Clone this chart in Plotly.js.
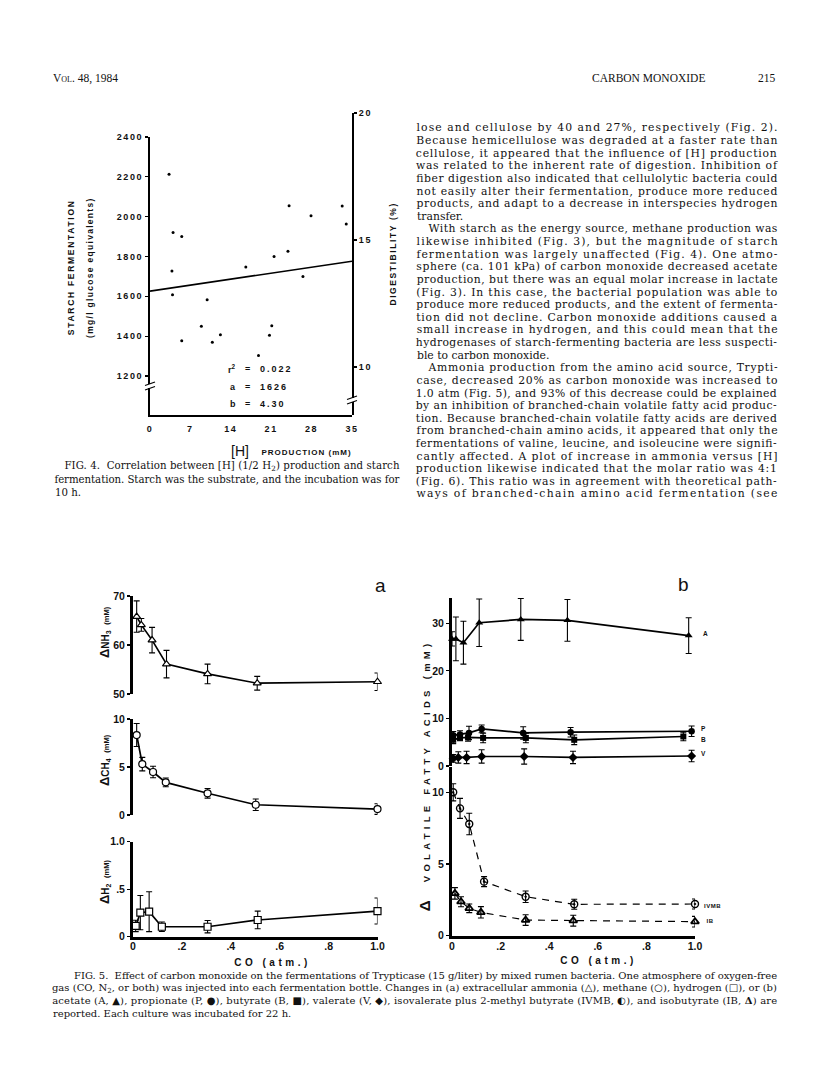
<!DOCTYPE html>
<html><head><meta charset="utf-8">
<script src="https://cdn.plot.ly/plotly-3.0.1.min.js"></script>
<style>
html,body{margin:0;padding:0;background:#fff;}
#chart{width:816px;height:1084px;}
.xtick text,.ytick text,.y2tick text{letter-spacing:1.6px;}
</style></head><body><div id="chart"></div>
<script>
// ---------- FIG. 4 data ----------
const hProduction = [3.3, 4.0, 5.5, 3.8, 3.9, 5.5, 8.9, 9.9, 10.8, 12.2, 16.6, 18.8, 20.7, 21.1, 21.5, 23.9, 24.1, 26.5, 27.9, 33.3, 34.0];
const starchFerm  = [2213, 1921, 1901, 1727, 1608, 1377, 1450, 1583, 1370, 1407, 1747, 1303, 1404, 1452, 1800, 1826, 2055, 1700, 2005, 2053, 1963];
const fitR2 = 0.022, fitA = 1626, fitB = 4.30;
const fitX = [0, 35];
const fig4XTicks = [0, 7, 14, 21, 28, 35];
const fig4YTicks = [1200, 1400, 1600, 1800, 2000, 2200, 2400];
const fig4Y2Ticks = [10, 15, 20];

// ---------- FIG. 5a data ----------
const coNH3 = [0.015, 0.034, 0.078, 0.137, 0.305, 0.508, 1.0];
const nh3   = [65.8, 64.1, 61.0, 56.1, 54.1, 52.2, 52.5];
const nh3Err = [3.2, 1.3, 2.6, 2.8, 2.0, 1.4, 1.8];
const coCH4 = [0.015, 0.038, 0.082, 0.134, 0.305, 0.502, 1.0];
const ch4   = [8.33, 5.3, 4.48, 3.4, 2.26, 1.07, 0.62];
const ch4Err = [1.2, 0.7, 0.6, 0.45, 0.5, 0.6, 0.55];
const coH2 = [0.011, 0.03, 0.066, 0.118, 0.305, 0.51, 1.0];
const h2   = [0.113, 0.253, 0.263, 0.105, 0.105, 0.176, 0.27];
const h2Err = [0.06, 0.18, 0.21, 0.05, 0.065, 0.093, 0.137];

// ---------- FIG. 5b data ----------
const coAcetate = [0.0, 0.016, 0.047, 0.112, 0.283, 0.475, 0.974];
const acetate   = [26.7, 26.7, 25.9, 30.1, 30.8, 30.6, 27.4];
const acetateErr = [1.5, 4.6, 4.5, 5.0, 4.4, 4.4, 3.75];
const coProp = [0.005, 0.033, 0.07, 0.122, 0.293, 0.488, 0.986];
const propionate = [6.45, 6.6, 6.95, 7.8, 6.95, 7.1, 7.3];
const propErr = [0.8, 0.8, 1.4, 0.8, 1.3, 1.0, 1.1];
const coBut = [0.005, 0.033, 0.066, 0.128, 0.304, 0.503, 0.952];
const butyrate = [5.5, 5.9, 6.0, 5.9, 5.9, 5.5, 6.2];
const butErr = [0.8, 0.6, 0.8, 1.0, 1.0, 1.0, 0.9];
const coVal = [0.005, 0.026, 0.06, 0.122, 0.297, 0.498, 0.986];
const valerate = [1.6, 1.8, 1.8, 2.0, 2.0, 1.8, 2.1];
const valErr = [0.8, 1.2, 1.3, 1.4, 1.6, 1.3, 1.2];
const coIVMB = [0.005, 0.033, 0.071, 0.132, 0.303, 0.503, 1.0];
const ivmb = [10.0, 8.88, 7.79, 3.77, 2.72, 2.19, 2.21];
const ivmbErr = [0.6, 0.7, 0.75, 0.35, 0.4, 0.35, 0.35];
const coIB = [0.012, 0.037, 0.071, 0.119, 0.303, 0.499, 1.0];
const ib = [2.95, 2.37, 1.91, 1.63, 1.09, 1.05, 0.98];
const ibErr = [0.4, 0.35, 0.3, 0.4, 0.37, 0.38, 0.37];

const coTicks = [0, 0.2, 0.4, 0.6, 0.8, 1.0];
const coTickText = ['0', '.2', '.4', '.6', '.8', '1.0'];
const nh3Ticks = [50, 60, 70];
const ch4Ticks = [0, 5, 10];
const h2Ticks = [0, 0.5, 1.0];
const h2TickText = ['0', '.5', '1.0'];
const vfaTopTicks = [0, 10, 20, 30];
const vfaBotTicks = [0, 5, 10];

// ---------- page text ----------
const headerLeft = 'Vol. 48, 1984';
const headerTitle = 'CARBON MONOXIDE';
const headerPage = '215';
const bodyLines = [
 'lose and cellulose by 40 and 27%, respectively (Fig. 2).',
 'Because hemicellulose was degraded at a faster rate than',
 'cellulose, it appeared that the influence of [H] production',
 'was related to the inherent rate of digestion. Inhibition of',
 'fiber digestion also indicated that cellulolytic bacteria could',
 'not easily alter their fermentation, produce more reduced',
 'products, and adapt to a decrease in interspecies hydrogen',
 'transfer.',
 'With starch as the energy source, methane production was',
 'likewise inhibited (Fig. 3), but the magnitude of starch',
 'fermentation was largely unaffected (Fig. 4). One atmo-',
 'sphere (ca. 101 kPa) of carbon monoxide decreased acetate',
 'production, but there was an equal molar increase in lactate',
 '(Fig. 3). In this case, the bacterial population was able to',
 'produce more reduced products, and the extent of fermenta-',
 'tion did not decline. Carbon monoxide additions caused a',
 'small increase in hydrogen, and this could mean that the',
 'hydrogenases of starch-fermenting bacteria are less suspecti-',
 'ble to carbon monoxide.',
 'Ammonia production from the amino acid source, Trypti-',
 'case, decreased 20% as carbon monoxide was increased to',
 '1.0 atm (Fig. 5), and 93% of this decrease could be explained',
 'by an inhibition of branched-chain volatile fatty acid produc-',
 'tion. Because branched-chain volatile fatty acids are derived',
 'from branched-chain amino acids, it appeared that only the',
 'fermentations of valine, leucine, and isoleucine were signifi-',
 'cantly affected. A plot of increase in ammonia versus [H]',
 'production likewise indicated that the molar ratio was 4:1',
 '(Fig. 6). This ratio was in agreement with theoretical path-',
 'ways of branched-chain amino acid fermentation (see'
];
const paraStarts = [8, 19];
const paraEnds = [7, 18];
const fig4Caption = [
 'FIG. 4.  Correlation between [H] (1/2 H<sub>2</sub>) production and starch',
 'fermentation. Starch was the substrate, and the incubation was for',
 '10 h.'
];
const fig5Caption = [
 'FIG. 5.  Effect of carbon monoxide on the fermentations of Trypticase (15 g/liter) by mixed rumen bacteria. One atmosphere of oxygen-free',
 'gas (CO, N<sub>2</sub>, or both) was injected into each fermentation bottle. Changes in (a) extracellular ammonia (△), methane (○), hydrogen (□), or (b)',
 'acetate (A, ▲), propionate (P, ●), butyrate (B, ■), valerate (V, ◆), isovalerate plus 2-methyl butyrate (IVMB, ◐), and isobutyrate (IB, <b>Δ</b>) are',
 'reported. Each culture was incubated for 22 h.'
];

// ---------- helpers ----------
const W = 816, H = 1084;
const SANS = '"Liberation Sans", Arial, sans-serif';
const SERIF = '"Liberation Serif", "Times New Roman", serif';
const TEXT = '"DejaVu Serif", "Liberation Serif", serif';
const fx = px => px / W;
const fy = py => 1 - py / H;

const annotations = [], annSpacing = [], annJustify = [];
function addText(text, px, py, o = {}) {
  annotations.push({
    xref: 'paper', yref: 'paper', x: fx(px), y: fy(py), text: text, showarrow: false,
    xanchor: o.xa || 'center', yanchor: o.ya || 'middle', align: o.align || 'center',
    textangle: o.angle || 0, borderpad: 0,
    font: {family: o.family || SANS, size: o.size || 10, color: '#111', weight: o.weight || 400, variant: o.variant || 'normal'}
  });
  annSpacing.push(o.ls || 0);
  annJustify.push(o.jw || 0);
}

// header
addText(headerLeft, 52, 78, {family: SERIF, size: 11.5, xa: 'left', align: 'left', variant: 'small-caps'});
addText(headerTitle, 591, 78, {family: SERIF, size: 11.5, xa: 'left', align: 'left'});
addText(headerPage, 777, 78, {family: SERIF, size: 11.5, xa: 'right', align: 'right'});

// body column
const colL = 416, colR = 777, lineStep = 12.62, firstLine = 128;
const BODY = 10.8;
bodyLines.forEach((t, i) => {
  const py = firstLine + i * lineStep;
  const ind = paraStarts.includes(i) ? 12 : 0;
  if (paraEnds.includes(i)) {
    addText(t, colL + ind, py, {family: TEXT, size: BODY, xa: 'left', align: 'left'});
  } else {
    addText(t, (colL + ind + colR) / 2, py, {family: TEXT, size: BODY, jw: colR - colL - ind});
  }
});

// fig 4 caption
const CAP4 = 10.2, CAP5 = 10;
addText(fig4Caption[0], (64 + 399) / 2, 466, {family: TEXT, size: CAP4, jw: 399 - 64});
addText(fig4Caption[1], (54 + 399) / 2, 479, {family: TEXT, size: CAP4, jw: 399 - 54});
addText(fig4Caption[2], 54, 492, {family: TEXT, size: CAP4, xa: 'left', align: 'left'});

// fig 5 caption
addText(fig5Caption[0], (74 + 777) / 2, 975.5, {family: TEXT, size: CAP5, jw: 777 - 74});
addText(fig5Caption[1], (52 + 777) / 2, 988, {family: TEXT, size: CAP5, jw: 777 - 52});
addText(fig5Caption[2], (52 + 777) / 2, 1000.5, {family: TEXT, size: CAP5, jw: 777 - 52});
addText(fig5Caption[3], 52, 1013, {family: TEXT, size: CAP5, xa: 'left', align: 'left'});

// fig 4 labels
addText('STARCH FERMENTATION', 71, 268, {size: 8.5, weight: 700, angle: -90, ls: 1.7});
addText('(mg/l glucose equivalents)', 90, 268, {size: 8.5, weight: 700, angle: -90, ls: 1.3});
addText('DIGESTIBILITY (%)', 393, 254, {size: 8.5, weight: 700, angle: -90, ls: 1.6});
addText('[H]', 240, 451, {size: 14, weight: 400});
addText('PRODUCTION (mM)', 306, 452, {size: 8, weight: 700, ls: 1.0});
addText('r<sup>2</sup>', 237, 369, {size: 9, weight: 700, xa: 'right', align: 'right'});
addText('=', 248, 369, {size: 9, weight: 700});
addText(fitR2.toFixed(3), 259, 369, {size: 9, weight: 700, xa: 'left', align: 'left', ls: 2});
addText('a', 237, 387, {size: 9, weight: 700, xa: 'right', align: 'right'});
addText('=', 248, 387, {size: 9, weight: 700});
addText(String(fitA), 259, 387, {size: 9, weight: 700, xa: 'left', align: 'left', ls: 2});
addText('b', 237, 404, {size: 9, weight: 700, xa: 'right', align: 'right'});
addText('=', 248, 404, {size: 9, weight: 700});
addText(fitB.toFixed(2), 259, 404, {size: 9, weight: 700, xa: 'left', align: 'left', ls: 2});

// fig 5 labels
addText('a', 380, 585, {size: 19});
addText('b', 683, 584, {size: 19});
addText('<span style="font-size:13px">Δ</span>NH<sub>3</sub>\u00a0\u00a0<span style="font-size:7.5px">(mM)</span>', 104, 632, {size: 10, weight: 700, angle: -90});
addText('<span style="font-size:13px">Δ</span>CH<sub>4</sub>\u00a0\u00a0<span style="font-size:7.5px">(mM)</span>', 104, 760, {size: 10, weight: 700, angle: -90});
addText('<span style="font-size:13px">Δ</span>H<sub>2</sub>\u00a0\u00a0<span style="font-size:7.5px">(mM)</span>', 104, 882, {size: 10, weight: 700, angle: -90});
addText('CO (atm.)', 272, 962, {size: 10, weight: 700, ls: 3.5});
addText('CO (atm.)', 598, 960, {size: 10, weight: 700, ls: 3.5});
addText('<span style="font-size:15px">Δ</span>\u00a0\u00a0VOLATILE FATTY ACIDS\u00a0(mM)', 424, 776, {size: 9.5, weight: 700, angle: -90, ls: 4.3});
addText('A', 705, 633, {size: 6.5, weight: 700});
addText('P', 703, 728, {size: 6.5, weight: 700});
addText('B', 703, 739, {size: 6.5, weight: 700});
addText('V', 703, 753, {size: 6.5, weight: 700});
addText('IVMB', 713, 906, {size: 6, weight: 700, ls: 0.5});
addText('IB', 710, 921, {size: 6, weight: 700, ls: 0.5});

// axis break marks for fig 4
const shapes = [];
function brk(cx, cy) {
  shapes.push({type: 'rect', xref: 'paper', yref: 'paper', x0: fx(cx - 4), x1: fx(cx + 4), y0: fy(cy + 2), y1: fy(cy - 2), fillcolor: '#fff', line: {width: 0}, layer: 'above'});
  shapes.push({type: 'line', xref: 'paper', yref: 'paper', x0: fx(cx - 5), x1: fx(cx + 5), y0: fy(cy - 0.5), y1: fy(cy - 4), line: {color: '#000', width: 1.2}, layer: 'above'});
  shapes.push({type: 'line', xref: 'paper', yref: 'paper', x0: fx(cx - 5), x1: fx(cx + 5), y0: fy(cy + 4), y1: fy(cy + 0.5), line: {color: '#000', width: 1.2}, layer: 'above'});
}
brk(150, 386);
brk(352, 400);

// ---------- traces ----------
const errStyle = arr => ({type: 'data', array: arr, visible: true, thickness: 1.1, width: 3, color: '#000'});
const traces = [
  {x: hProduction, y: starchFerm, xaxis: 'x', yaxis: 'y', mode: 'markers', type: 'scatter', marker: {size: 3, color: '#000'}},
  {x: fitX, y: fitX.map(v => fitA + fitB * v), xaxis: 'x', yaxis: 'y', mode: 'lines', type: 'scatter', line: {color: '#000', width: 1.6}},
  // empty trace that makes the digestibility (right) axis exist
  {x: [], y: [], xaxis: 'x', yaxis: 'y2', mode: 'markers', type: 'scatter', hoverinfo: 'skip'},

  {x: coNH3, y: nh3, error_y: errStyle(nh3Err), xaxis: 'x2', yaxis: 'y3', mode: 'lines+markers', type: 'scatter', cliponaxis: false,
   line: {color: '#000', width: 1.7}, marker: {symbol: 'triangle-up', size: 7, color: '#fff', line: {color: '#000', width: 1.2}}},
  {x: coCH4, y: ch4, error_y: errStyle(ch4Err), xaxis: 'x2', yaxis: 'y4', mode: 'lines+markers', type: 'scatter', cliponaxis: false,
   line: {color: '#000', width: 1.7}, marker: {symbol: 'circle', size: 7, color: '#fff', line: {color: '#000', width: 1.2}}},
  {x: coH2, y: h2, error_y: errStyle(h2Err), xaxis: 'x2', yaxis: 'y5', mode: 'lines+markers', type: 'scatter', cliponaxis: false,
   line: {color: '#000', width: 1.7}, marker: {symbol: 'square', size: 7, color: '#fff', line: {color: '#000', width: 1.2}}},

  {x: coAcetate, y: acetate, error_y: errStyle(acetateErr), xaxis: 'x3', yaxis: 'y6', mode: 'lines+markers', type: 'scatter', cliponaxis: false,
   line: {color: '#000', width: 1.7}, marker: {symbol: 'triangle-up', size: 7, color: '#000'}},
  {x: coProp, y: propionate, error_y: errStyle(propErr), xaxis: 'x3', yaxis: 'y6', mode: 'lines+markers', type: 'scatter', cliponaxis: false,
   line: {color: '#000', width: 1.7}, marker: {symbol: 'circle', size: 6.5, color: '#000'}},
  {x: coBut, y: butyrate, error_y: errStyle(butErr), xaxis: 'x3', yaxis: 'y6', mode: 'lines+markers', type: 'scatter', cliponaxis: false,
   line: {color: '#000', width: 1.7}, marker: {symbol: 'square', size: 6, color: '#000'}},
  {x: coVal, y: valerate, error_y: errStyle(valErr), xaxis: 'x3', yaxis: 'y6', mode: 'lines+markers', type: 'scatter', cliponaxis: false,
   line: {color: '#000', width: 1.7}, marker: {symbol: 'diamond', size: 7, color: '#000'}},
  {x: coIVMB, y: ivmb, error_y: errStyle(ivmbErr), xaxis: 'x3', yaxis: 'y7', mode: 'lines+markers', type: 'scatter', cliponaxis: false,
   line: {color: '#000', width: 1.2, dash: '7px,6px'}, marker: {symbol: 'circle-open-dot', size: 7, color: '#000', line: {color: '#000', width: 1.4}}},
  {x: coIB, y: ib, error_y: errStyle(ibErr), xaxis: 'x3', yaxis: 'y7', mode: 'lines+markers', type: 'scatter', cliponaxis: false,
   line: {color: '#000', width: 1.2, dash: '7px,6px'}, marker: {symbol: 'triangle-up-open', size: 7, color: '#000', line: {color: '#000', width: 1.8}}}
];

// ---------- axes ----------
function ax(o) {
  return Object.assign({showgrid: false, zeroline: false, fixedrange: true, showline: true, linecolor: '#000', color: '#000',
    tickcolor: '#000', ticks: 'outside', ticklen: 3, tickwidth: 1.2,
    tickfont: {family: SANS, size: 10.5, weight: 700, color: '#111'}}, o);
}
const f4tick = {family: SANS, size: 9, weight: 700, color: '#111'};
const layout = {
  width: W, height: H, margin: {l: 0, r: 0, t: 0, b: 0}, paper_bgcolor: '#fff', plot_bgcolor: 'rgba(0,0,0,0)', showlegend: false,
  // fig 4
  xaxis: ax({domain: [fx(150), fx(352)], range: [0, 35], anchor: 'y', linewidth: 2, tickvals: fig4XTicks, ticklen: 4, tickcolor: 'rgba(0,0,0,0)', tickfont: f4tick}),
  yaxis: ax({domain: [fy(415), fy(137)], range: [1004.2, 2400], anchor: 'x', linewidth: 2, tickvals: fig4YTicks, tickfont: f4tick}),
  yaxis2: ax({domain: [fy(415), fy(113)], range: [8.11, 20], anchor: 'x', side: 'right', linewidth: 2, tickvals: fig4Y2Ticks, tickfont: f4tick}),
  // fig 5a
  xaxis2: ax({domain: [fx(133), fx(377.5)], range: [0, 1], anchor: 'y5', linewidth: 3, ticks: '', tickvals: coTicks, ticktext: coTickText, ticklabelstandoff: -2}),
  yaxis3: ax({domain: [fy(694), fy(596)], range: [50, 70], anchor: 'x2', linewidth: 3, tickvals: nh3Ticks}),
  yaxis4: ax({domain: [fy(815), fy(719)], range: [0, 10], anchor: 'x2', linewidth: 3, tickvals: ch4Ticks}),
  yaxis5: ax({domain: [fy(936.7), fy(841.7)], range: [0, 1], anchor: 'x2', linewidth: 3, tickvals: h2Ticks, ticktext: h2TickText}),
  // fig 5b
  xaxis3: ax({domain: [fx(452), fx(695)], range: [0, 1], anchor: 'y7', linewidth: 3.5, ticks: '', tickvals: coTicks, ticktext: coTickText, ticklabelstandoff: -2}),
  yaxis6: ax({domain: [fy(766), fy(598)], range: [0, 35.3], anchor: 'x3', linewidth: 3, tickvals: vfaTopTicks}),
  yaxis7: ax({domain: [fy(935.7), fy(766.5)], range: [0, 11.8], anchor: 'x3', linewidth: 3, tickvals: vfaBotTicks}),
  annotations: annotations,
  shapes: shapes
};

Plotly.newPlot('chart', traces, layout, {staticPlot: true, displayModeBar: false}).then(() => {
  document.querySelectorAll('#chart g.annotation').forEach(g => {
    const i = +g.getAttribute('data-index');
    const t = g.querySelector('text.annotation-text');
    if (!t) return;
    if (annSpacing[i]) t.style.letterSpacing = annSpacing[i] + 'px';
    if (annJustify[i]) { t.setAttribute('textLength', annJustify[i]); t.setAttribute('lengthAdjust', 'spacing'); }
  });
  // drop empty placeholder text nodes (unused axis titles)
  document.querySelectorAll('#chart svg text').forEach(t => { if (!t.textContent.trim()) t.remove(); });
});
</script></body></html>
